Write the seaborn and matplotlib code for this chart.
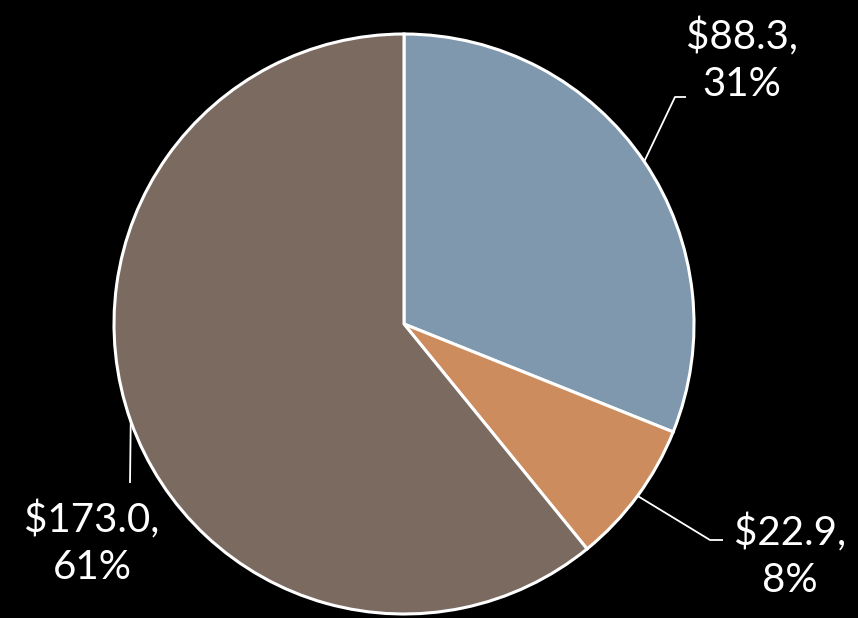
import numpy as np
import matplotlib
matplotlib.use("Agg")
import matplotlib.pyplot as plt
import seaborn as sns

values = [88.3, 22.9, 173.0]
labels = ["$88.3,\n31%", "$22.9,\n8%", "$173.0,\n61%"]
colors = ["#7F98AE", "#CC8C5E", "#7A6A60"]

sns.set_theme(style="white")
plt.rcParams["font.family"] = ["Lato", "DejaVu Sans"]

W, H = 858, 618
fig = plt.figure(figsize=(W / 100, H / 100), dpi=100, facecolor="black")
ax = fig.add_axes([0, 0, 1, 1])
ax.set_facecolor("black")

cx, cy, r = 404, H - 324, 290
wedges, _ = ax.pie(values, colors=colors, startangle=90, counterclock=False,
                   center=(cx, cy), radius=r, frame=True,
                   wedgeprops=dict(edgecolor="white", linewidth=2.2))
ax.set_xlim(0, W)
ax.set_ylim(0, H)
ax.set_aspect("equal")
ax.axis("off")

# leader line elbows and label positions (pixel coords from top)
elbows = [[(675, 97), (686, 97)], [(710, 540), (723, 540)], [(130, 483)]]
text_pos = [(742, 60, "center"), (790, 556, "center"), (92, 543, "center")]

for w, elb, (tx, ty, ha), lab in zip(wedges, elbows, text_pos, labels):
    ang = np.deg2rad((w.theta1 + w.theta2) / 2)
    x0, y0 = cx + r * np.cos(ang), cy + r * np.sin(ang)
    xs = [x0] + [p[0] for p in elb]
    ys = [y0] + [H - p[1] for p in elb]
    ax.plot(xs, ys, color="white", lw=1.3, solid_capstyle="butt")
    ax.text(tx, H - ty, lab, ha=ha, va="center", color="white",
            fontsize=29, fontweight="normal", linespacing=1.33)

fig.savefig("out.png", dpi=100, facecolor="black")
